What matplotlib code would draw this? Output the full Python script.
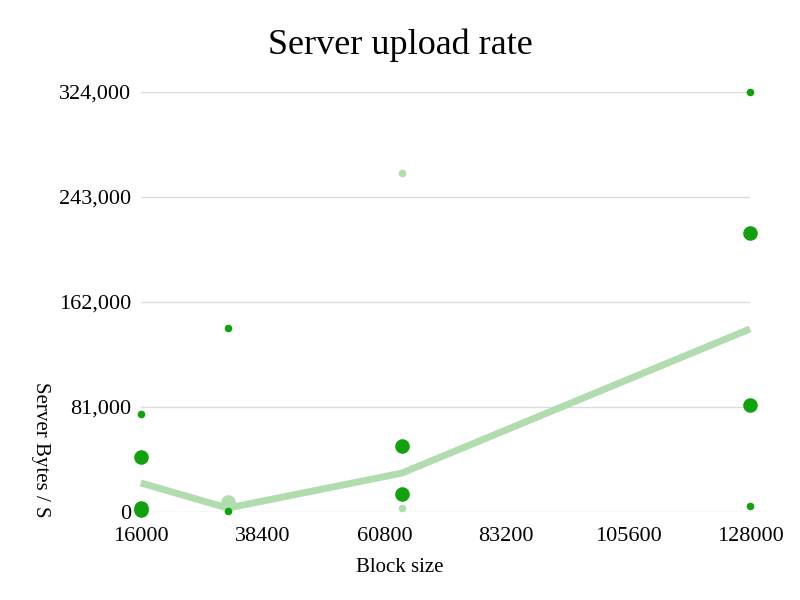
import matplotlib
matplotlib.use("Agg")
import matplotlib.pyplot as plt

plt.rcParams['font.family'] = ['Liberation Serif', 'DejaVu Serif']

# Data
dark_big_x = [16000, 16000, 16000, 64000, 64000, 128000, 128000]
dark_big_y = [42400, 3000, 1500, 50900, 13900, 215200, 82500]
dark_small_x = [16000, 32000, 32000, 128000, 128000]
dark_small_y = [75600, 141900, 500, 324000, 4600]
light_small_x = [64000, 64000]
light_small_y = [261500, 3000]
light_big_x = [32000]
light_big_y = [7700]
line_x = [16000, 32000, 64000, 128000]
line_y = [22400, 3000, 30000, 141200]

x_ticks = [16000, 38400, 60800, 83200, 105600, 128000]
y_ticks = [0, 81000, 162000, 243000, 324000]

dark = '#10a10c'
light = '#b1dcae'

fig = plt.figure(figsize=(8, 6), dpi=100)
ax = fig.add_axes([0.176, 0.1467, 0.7615, 0.70])
ax.set_xlim(16000, 128000)
ax.set_ylim(0, 324000)

ax.plot(line_x, line_y, color=light, lw=5, solid_capstyle='butt', zorder=2, clip_on=False)
ax.scatter(light_big_x, light_big_y, s=110, color=light, zorder=3, clip_on=False, linewidths=0)
ax.scatter(light_small_x, light_small_y, s=30, color=light, zorder=3, clip_on=False, linewidths=0)
ax.scatter(dark_big_x, dark_big_y, s=110, color=dark, zorder=4, clip_on=False, linewidths=0)
ax.scatter(dark_small_x, dark_small_y, s=30, color=dark, zorder=4, clip_on=False, linewidths=0)

ax.set_xticks(x_ticks)
ax.set_xticklabels([str(v) for v in x_ticks])
ax.set_yticks(y_ticks)
ax.set_yticklabels([f"{v:,}" for v in y_ticks])
ax.tick_params(length=0, labelsize=16)
ax.tick_params(axis='y', pad=7)
ax.tick_params(axis='x', pad=11)
ax.grid(axis='y', color='#dcdcdc', lw=1)
ax.set_axisbelow(True)
for s in ax.spines.values():
    s.set_visible(False)

fig.text(0.5, 1 - 45 / 600, 'Server upload rate', ha='center', va='center', fontsize=26)
fig.text(0.5, 1 - 568 / 600, 'Block size', ha='center', va='center', fontsize=15)
fig.text(40 / 800, 1 - 450 / 600, 'Server Bytes / S', ha='center', va='center', rotation=270, fontsize=15)

fig.savefig('out.png', dpi=100)
